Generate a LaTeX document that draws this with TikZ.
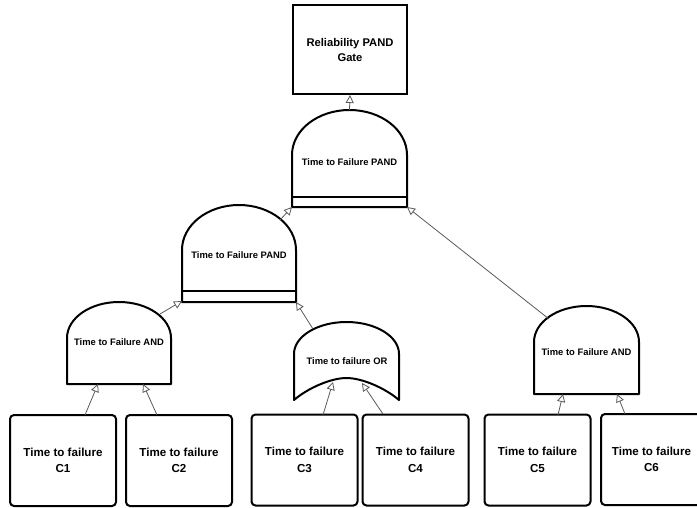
\documentclass[tikz,border=0pt]{standalone}
\usepackage{fontspec}
\setmainfont{Liberation Sans}
\usetikzlibrary{arrows.meta}
\begin{document}
\begin{tikzpicture}[x=1pt,y=-1pt,
  gate/.style={line width=2pt, line join=round},
  gatelabel/.style={font=\fontsize{9.4}{11}\selectfont\bfseries, inner sep=0pt},
  leaf/.style={draw, line width=2pt, rounded corners=4pt, minimum width=106pt, minimum height=91pt, align=center, font=\fontsize{11.6}{16.5}\selectfont\bfseries, inner sep=0pt},
  topbox/.style={draw, line width=2pt, minimum width=114pt, minimum height=89pt, align=center, font=\fontsize{11.2}{15}\selectfont\bfseries, inner sep=0pt},
  conn/.style={draw=black!65, line width=0.8pt, -{Triangle[open, length=8pt, width=8pt, fill=white]}},
]
\useasboundingbox (0,0) rectangle (697,507);

% top event
\node[topbox] (top) at (350,49.5) {Reliability PAND\\Gate};

% PAND gate 1
\draw[gate] (292,207) -- (292,155) .. controls (292,130.1) and (317.7,110) .. (349.5,110) .. controls (381.3,110) and (407,130.1) .. (407,155) -- (407,207) -- cycle;
\draw[gate] (292,197) -- (407,197);
\node[gatelabel] (pand1) at (349.5,162) {Time to Failure PAND};

% PAND gate 2
\draw[gate] (182,302) -- (182,250) .. controls (182,225.1) and (207.5,205) .. (239,205) .. controls (270.5,205) and (296,225.1) .. (296,250) -- (296,302) -- cycle;
\draw[gate] (182,291) -- (296,291);
\node[gatelabel] (pand2) at (239,255) {Time to Failure PAND};

% AND gate 1
\draw[gate] (67,384) -- (67,338) .. controls (67,318.1) and (90.3,302) .. (119,302) .. controls (147.7,302) and (171,318.1) .. (171,338) -- (171,384) -- cycle;
\node[gatelabel] (and1) at (119,342) {Time to Failure AND};

% OR gate
\draw[gate] (294,400) -- (294,354) .. controls (294,336.3) and (317.5,322) .. (346.5,322) .. controls (375.5,322) and (399,336.3) .. (399,354) -- (399,400) .. controls (385,388) and (362,378) .. (346.5,378) .. controls (331,378) and (308,388) .. (294,400) -- cycle;
\node[gatelabel] (or) at (347,361) {Time to failure OR};

% AND gate 2
\draw[gate] (534,394) -- (534,342) .. controls (534,322.1) and (557.5,306) .. (586.5,306) .. controls (615.5,306) and (639,322.1) .. (639,342) -- (639,394) -- cycle;
\node[gatelabel] (and2) at (586.5,352) {Time to Failure AND};

% leaves
\node[leaf] (c1) at (63,460.5) {Time to failure\\C1};
\node[leaf] (c2) at (179,460.5) {Time to failure\\C2};
\node[leaf] (c3) at (304.5,460) {Time to failure\\C3};
\node[leaf] (c4) at (415.5,460) {Time to failure\\C4};
\node[leaf] (c5) at (537.5,460) {Time to failure\\C5};
\node[leaf, minimum width=101pt] (c6) at (651.5,459.5) {Time to failure\\C6};

% connector end points
\coordinate (p1o) at (349.5,110);
\coordinate (p1iL) at (292,207);
\coordinate (p1iR) at (407,207);
\coordinate (p2o) at (280,220);
\coordinate (p2iL) at (182,301);
\coordinate (p2iR) at (296,302);
\coordinate (a1o) at (160,314);
\coordinate (a1i1) at (98,384);
\coordinate (a1i2) at (143,384);
\coordinate (oro) at (313,329);
\coordinate (ori1) at (333,382);
\coordinate (ori2) at (362,383);
\coordinate (a2o) at (549,319);
\coordinate (a2i1) at (563,394);
\coordinate (a2i2) at (617,394);
\coordinate (c1o) at (85,415);
\coordinate (c2o) at (157,415);
\coordinate (c3o) at (323,415);
\coordinate (c4o) at (383,414);
\coordinate (c5o) at (558,415);
\coordinate (c6o) at (625,414);

% connectors
\draw[conn] (p1o) -- (top.south);
\draw[conn] (p2o) -- (p1iL);
\draw[conn] (a2o) -- (p1iR);
\draw[conn] (a1o) -- (p2iL);
\draw[conn] (oro) -- (p2iR);
\draw[conn] (c1o) -- (a1i1);
\draw[conn] (c2o) -- (a1i2);
\draw[conn] (c3o) -- (ori1);
\draw[conn] (c4o) -- (ori2);
\draw[conn] (c5o) -- (a2i1);
\draw[conn] (c6o) -- (a2i2);
\end{tikzpicture}
\end{document}
